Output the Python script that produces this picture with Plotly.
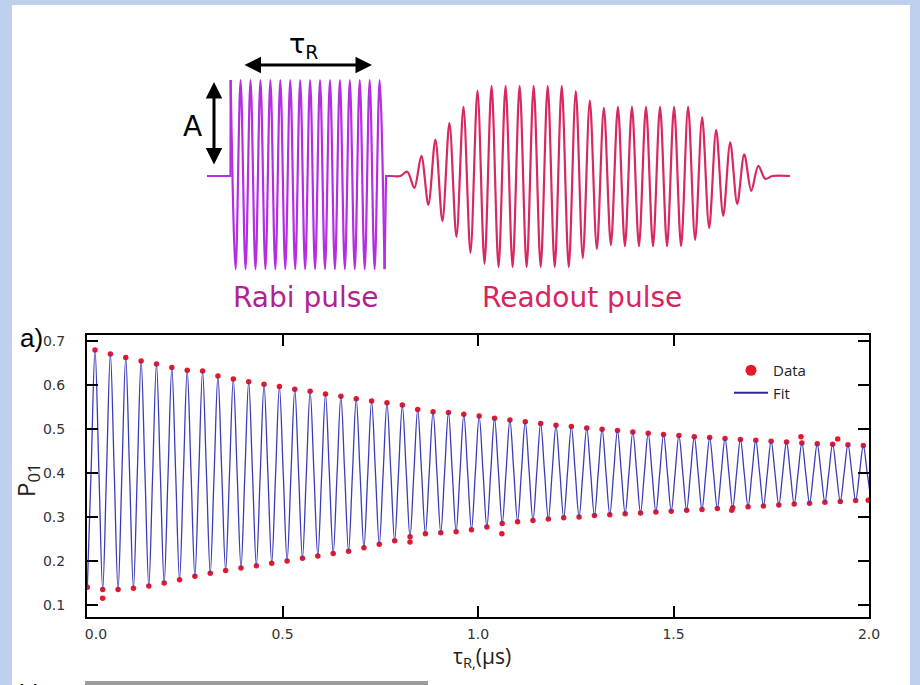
import numpy as np
import plotly.graph_objects as go

# ------------------------------------------------------------------
# DATA
# ------------------------------------------------------------------
# Rabi oscillation: timing of the oscillation (microseconds)
PERIOD_US = 0.0393          # oscillation period
FIRST_PEAK_US = 0.0205      # time of the first maximum
START_VALUE = 0.14          # P01 at the first minimum (t ~ 0)

# value of P01 at each maximum (51 cycles)
PEAKS = [0.679, 0.670, 0.662, 0.654, 0.647, 0.639, 0.633, 0.631, 0.620, 0.613,
         0.607, 0.601, 0.596, 0.590, 0.585, 0.579, 0.574, 0.568, 0.563, 0.559,
         0.554, 0.544, 0.539, 0.537, 0.533, 0.529, 0.524, 0.520, 0.516, 0.512,
         0.508, 0.505, 0.502, 0.499, 0.496, 0.493, 0.490, 0.487, 0.485, 0.482,
         0.480, 0.478, 0.476, 0.474, 0.472, 0.470, 0.468, 0.466, 0.465, 0.464,
         0.462]
# value of P01 at the minimum that follows each maximum
TROUGHS = [0.135, 0.135, 0.138, 0.143, 0.150, 0.157, 0.165, 0.172, 0.178, 0.184,
           0.189, 0.195, 0.200, 0.206, 0.211, 0.217, 0.222, 0.230, 0.238, 0.246,
           0.255, 0.262, 0.264, 0.266, 0.271, 0.277, 0.285, 0.289, 0.292, 0.295,
           0.298, 0.300, 0.303, 0.305, 0.307, 0.309, 0.311, 0.313, 0.315, 0.317,
           0.319, 0.321, 0.323, 0.325, 0.327, 0.329, 0.331, 0.333, 0.335, 0.337,
           0.339]
# data points visibly off the fit
OUTLIER_T = [0.040, 0.826, 1.061, 1.649, 1.826, 1.920, 1.998]
OUTLIER_V = [0.115, 0.243, 0.262, 0.315, 0.482, 0.477, 0.338]

# Pulse sketch: relative amplitudes of each half-cycle
RABI_PEAK_AMPS = [1.0, 1.0, 1.0, 1.0, 1.0, 1.0, 1.0, 1.0,
                  1.0, 1.0, 1.0, 1.0, 1.0, 1.0, 1.0, 1.0]
RABI_TROUGH_AMPS = [0.97, 0.97, 0.97, 0.97, 0.97, 0.97, 0.97, 0.97,
                    0.97, 0.97, 0.97, 0.97, 0.97, 0.97, 0.97, 0.97]
READOUT_PEAK_AMPS = [0.045, 0.21, 0.38, 0.55, 0.72, 0.89, 0.94, 0.94, 0.94, 0.94,
                     0.94, 0.94, 0.885, 0.785, 0.71, 0.72, 0.72, 0.72, 0.72, 0.72,
                     0.72, 0.61, 0.48, 0.35, 0.225, 0.105]
READOUT_TROUGH_AMPS = [0.125, 0.30, 0.47, 0.635, 0.80, 0.915, 0.95, 0.95, 0.95, 0.95,
                       0.95, 0.95, 0.855, 0.76, 0.72, 0.73, 0.73, 0.73, 0.73, 0.73,
                       0.665, 0.54, 0.415, 0.29, 0.155, 0.03]

X_TICKS = [0.0, 0.5, 1.0, 1.5, 2.0]
X_TICK_TEXT = ['\u00a0\u00a0\u00a0\u00a00.0', '0.5', '1.0', '1.5', '2.0']
Y_TICKS = [0.1, 0.2, 0.3, 0.4, 0.5, 0.6, 0.7]

# ------------------------------------------------------------------
# oscillation sequence: min, rising mid, max, falling mid, min, ...
# ------------------------------------------------------------------
peak_t = FIRST_PEAK_US + PERIOD_US * np.arange(len(PEAKS))
trough_t = peak_t + PERIOD_US / 2
fit_t = [peak_t[0] - PERIOD_US / 2]
fit_v = [START_VALUE]
ext_t = [peak_t[0] - PERIOD_US / 2]
ext_v = [START_VALUE]
prev_min = START_VALUE
for i in range(len(PEAKS)):
    fit_t += [peak_t[i] - PERIOD_US / 4, peak_t[i], peak_t[i] + PERIOD_US / 4, trough_t[i]]
    fit_v += [(prev_min + PEAKS[i]) / 2, PEAKS[i], (PEAKS[i] + TROUGHS[i]) / 2, TROUGHS[i]]
    ext_t += [peak_t[i], trough_t[i]]
    ext_v += [PEAKS[i], TROUGHS[i]]
    prev_min = TROUGHS[i]
ext_t = np.array(ext_t)
ext_v = np.array(ext_v)
inr = ext_t <= 2.0
data_t = np.concatenate([ext_t[inr], OUTLIER_T])
data_v = np.concatenate([ext_v[inr], OUTLIER_V])

# ------------------------------------------------------------------
# pulse sketch timing (sketch axis units = screen px of the figure)
# ------------------------------------------------------------------
W, H = 920, 685
RABI_START, RABI_PERIOD = 230.5, 9.93
RABI_LEAD = 207
READOUT_FIRST_PEAK, READOUT_PERIOD = 407.3, 14.04
READOUT_LEAD, READOUT_TAIL = 392, 790
BASE_PX, AMP_PX = 176, 96

fig = go.Figure()

red = '#e8182a'
blue = '#3c3cb8'
fig.add_trace(go.Scatter(
    x=data_t, y=data_v, mode='markers', name='Data', showlegend=False,
    marker=dict(color=red, size=5.5, line=dict(width=0)), xaxis='x', yaxis='y'))
fig.add_trace(go.Scatter(
    x=fit_t, y=fit_v, mode='lines', name='Fit', showlegend=False,
    line=dict(color=blue, width=1.3, shape='spline', smoothing=1.0), xaxis='x', yaxis='y'))
# legend entries
fig.add_trace(go.Scatter(x=[None], y=[None], mode='markers', name='Data',
                         marker=dict(color=red, size=11), xaxis='x', yaxis='y'))
fig.add_trace(go.Scatter(x=[None], y=[None], mode='lines', name='Fit',
                         line=dict(color='#2a2a9a', width=2), xaxis='x', yaxis='y'))

# Rabi pulse
rp_t = RABI_START + 0.15 + RABI_PERIOD * np.arange(len(RABI_PEAK_AMPS))
rt_t = rp_t + RABI_PERIOD / 2
r_x, r_y = [], []
for i in range(len(RABI_PEAK_AMPS)):
    r_x += [rp_t[i], rt_t[i]]
    r_y += [RABI_PEAK_AMPS[i], -RABI_TROUGH_AMPS[i]]
rabi_col = '#b42ee2'
common2 = dict(xaxis='x2', yaxis='y2', showlegend=False, hoverinfo='skip')
fig.add_trace(go.Scatter(x=[RABI_LEAD, RABI_START, rp_t[0]], y=[0, 0, RABI_PEAK_AMPS[0]],
                         mode='lines', line=dict(color=rabi_col, width=2.2), **common2))
fig.add_trace(go.Scatter(x=r_x, y=r_y, mode='lines',
                         line=dict(color=rabi_col, width=2.2, shape='spline', smoothing=1.0),
                         **common2))
fig.add_trace(go.Scatter(x=[rt_t[-1], rt_t[-1] + 1.5, READOUT_LEAD],
                         y=[-RABI_TROUGH_AMPS[-1], 0, 0],
                         mode='lines', line=dict(color=rabi_col, width=2.2), **common2))

# Readout pulse
op_t = READOUT_FIRST_PEAK + READOUT_PERIOD * np.arange(len(READOUT_PEAK_AMPS))
ot_t = op_t + READOUT_PERIOD / 2
o_x = [READOUT_LEAD, op_t[0] - READOUT_PERIOD / 2]
o_y = [0, 0]
for i in range(len(READOUT_PEAK_AMPS)):
    o_x += [op_t[i], ot_t[i]]
    o_y += [READOUT_PEAK_AMPS[i], -READOUT_TROUGH_AMPS[i]]
o_x += [ot_t[-1] + READOUT_PERIOD / 2, READOUT_TAIL]
o_y += [0, 0]
fig.add_trace(go.Scatter(x=o_x, y=o_y, mode='lines',
                         line=dict(color='#d8285f', width=2.2, shape='spline', smoothing=0.9),
                         **common2))


def px(x):
    return x / W


def py(y):
    return 1 - y / H


tick_font = dict(family='DejaVu Sans', size=14, color='#333333')
Y_BOT, Y_TOP = 0.0727, 0.713
axis_common = dict(showline=True, linecolor='black', linewidth=2, mirror='ticks',
                   ticks='inside', ticklen=11, tickwidth=2, tickcolor='black',
                   showgrid=False, zeroline=False, tickfont=tick_font, automargin=False)

fig.update_layout(
    width=W, height=H, margin=dict(l=0, r=0, t=0, b=0, autoexpand=False),
    paper_bgcolor='#bfd0ee', plot_bgcolor='rgba(0,0,0,0)',
    xaxis=dict(domain=[px(87), px(869)], range=[0, 2.0], anchor='y',
               tickvals=X_TICKS, ticktext=X_TICK_TEXT, ticklabelstandoff=3, **axis_common),
    yaxis=dict(domain=[py(617), py(335)], range=[Y_BOT, Y_TOP], anchor='x',
               tickvals=Y_TICKS, tickformat='.1f', ticklabelstandoff=17, **axis_common),
    xaxis2=dict(domain=[0, 1], range=[0, W], anchor='y2', visible=False, fixedrange=True,
                automargin=False),
    yaxis2=dict(domain=[0, 1], range=[-(H - BASE_PX) / AMP_PX, BASE_PX / AMP_PX],
                anchor='x2', visible=False, fixedrange=True, automargin=False),
    legend=dict(x=px(729), y=py(354), xanchor='left', yanchor='top',
                bgcolor='rgba(0,0,0,0)', font=dict(family='Open Sans', size=15, color='#222'),
                tracegroupgap=0, itemwidth=34),
    showlegend=True,
    shapes=[
        dict(type='rect', xref='paper', yref='paper', x0=px(12), x1=px(910), y0=-0.01, y1=py(5),
             fillcolor='white', line=dict(width=0), layer='below'),
        dict(type='rect', xref='paper', yref='paper', x0=px(85), x1=px(428), y0=-0.01, y1=py(681),
             fillcolor='#9c9c9c', line=dict(width=0), layer='below'),
    ],
)


def label(x, y, text, size, color='black', family='DejaVu Sans', angle=0):
    return dict(xref='paper', yref='paper', x=px(x), y=py(y), text=text, showarrow=False,
                xanchor='center', yanchor='middle', textangle=angle,
                font=dict(family=family, size=size, color=color))


ann = []
# arrows of the sketch
ann.append(dict(xref='paper', yref='paper', x=px(214), y=py(82), ax=0, ay=84, text='',
                showarrow=True, arrowhead=2, arrowside='end+start', arrowsize=1.1,
                arrowwidth=3, arrowcolor='black', standoff=0, startstandoff=0))
ann.append(dict(xref='paper', yref='paper', x=px(372), y=py(65), ax=-129, ay=0, text='',
                showarrow=True, arrowhead=2, arrowside='end+start', arrowsize=1.1,
                arrowwidth=3, arrowcolor='black', standoff=0, startstandoff=0))
ann.append(label(303, 46, 'τ<sub>R</sub>', 27))
ann.append(label(192, 127, 'A', 28))
ann.append(label(306, 297, 'Rabi pulse', 28, '#b0238f'))
ann.append(label(582, 297, 'Readout pulse', 28, '#d8245f'))
# panel labels and axis titles
ann.append(label(31, 338, 'a)', 26, 'black', 'Liberation Sans'))
ann.append(label(27, 480, 'P<sub>01</sub>', 24, '#222', 'Open Sans', -90))
ann.append(label(482, 657, 'τ<sub>R,</sub>(μs)', 21, '#222', 'Open Sans'))
ann.append(dict(xref='paper', yref='paper', x=px(30), y=py(677), text='b)', showarrow=False,
                xanchor='center', yanchor='top',
                font=dict(family='Liberation Sans', size=26, color='black')))
fig.update_layout(annotations=ann)

fig.write_html('out.html')
